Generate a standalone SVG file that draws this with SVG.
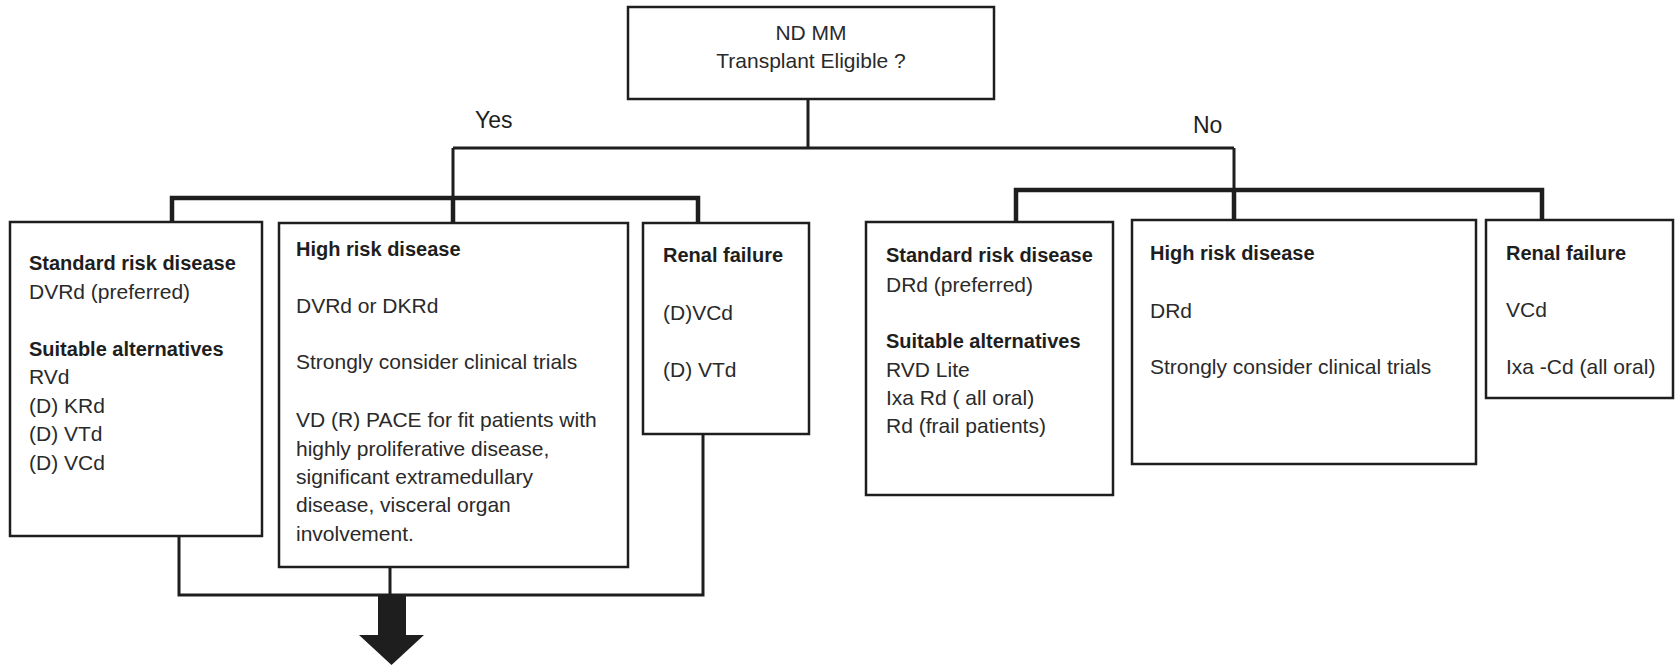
<svg xmlns="http://www.w3.org/2000/svg" width="1676" height="667" viewBox="0 0 1676 667">
<style>
.box{fill:#fff;stroke:#1e1e1e;stroke-width:2.5}
.t{font-family:"Liberation Sans",Arial,sans-serif;font-size:21px;fill:#2a2a2a}
.b{font-family:"Liberation Sans",Arial,sans-serif;font-size:20px;font-weight:bold;fill:#1e1e1e}
.lbl{font-family:"Liberation Sans",Arial,sans-serif;font-size:23px;fill:#1e1e1e}
.thin{fill:none;stroke:#1e1e1e;stroke-width:3}
.thick{fill:none;stroke:#1e1e1e;stroke-width:4.5}
</style>
<rect width="1676" height="667" fill="#fff"/>
<g id="connectors">
<path class="thin" d="M808 99V148M453 148H1234M453 148V198M1234 148V190"/>
<path class="thick" d="M172 222V198H698V222M453 198V222"/>
<path class="thick" d="M1016 222V190H1542V220M1234 190V222"/>
<path class="thin" d="M179 536V595H703V434M390 567V595"/>
<polygon points="378,595 406,595 406,635 424,635 391.5,665 359,635 378,635" fill="#1e1e1e"/>
<text class="lbl" x="475" y="128">Yes</text>
<text class="lbl" x="1193" y="133">No</text>
</g>
<g id="root">
<rect class="box" x="628" y="7" width="366" height="92"/>
<text class="t" x="811" y="40" text-anchor="middle">ND MM</text>
<text class="t" x="811" y="68" text-anchor="middle">Transplant Eligible ?</text>
</g>
<g id="te-standard">
<rect class="box" x="10" y="222" width="252" height="314"/>
<text class="b" x="29" y="270">Standard risk disease</text>
<text class="t" x="29" y="299">DVRd (preferred)</text>
<text class="b" x="29" y="356">Suitable alternatives</text>
<text class="t" x="29" y="384">RVd</text>
<text class="t" x="29" y="413">(D) KRd</text>
<text class="t" x="29" y="441">(D) VTd</text>
<text class="t" x="29" y="470">(D) VCd</text>
</g>
<g id="te-high">
<rect class="box" x="279" y="223" width="349" height="344"/>
<text class="b" x="296" y="256">High risk disease</text>
<text class="t" x="296" y="313">DVRd or DKRd</text>
<text class="t" x="296" y="369">Strongly consider clinical trials</text>
<text class="t" x="296" y="427">VD (R) PACE for fit patients with</text>
<text class="t" x="296" y="456">highly proliferative disease,</text>
<text class="t" x="296" y="484">significant extramedullary</text>
<text class="t" x="296" y="512">disease, visceral organ</text>
<text class="t" x="296" y="541">involvement.</text>
</g>
<g id="te-renal">
<rect class="box" x="643" y="223" width="166" height="211"/>
<text class="b" x="663" y="262">Renal failure</text>
<text class="t" x="663" y="320">(D)VCd</text>
<text class="t" x="663" y="377">(D) VTd</text>
</g>
<g id="nte-standard">
<rect class="box" x="866" y="222" width="247" height="273"/>
<text class="b" x="886" y="262">Standard risk disease</text>
<text class="t" x="886" y="292">DRd (preferred)</text>
<text class="b" x="886" y="348">Suitable alternatives</text>
<text class="t" x="886" y="377">RVD Lite</text>
<text class="t" x="886" y="405">Ixa Rd ( all oral)</text>
<text class="t" x="886" y="433">Rd (frail patients)</text>
</g>
<g id="nte-high">
<rect class="box" x="1132" y="220" width="344" height="244"/>
<text class="b" x="1150" y="260">High risk disease</text>
<text class="t" x="1150" y="318">DRd</text>
<text class="t" x="1150" y="374">Strongly consider clinical trials</text>
</g>
<g id="nte-renal">
<rect class="box" x="1486" y="220" width="187" height="178"/>
<text class="b" x="1506" y="260">Renal failure</text>
<text class="t" x="1506" y="317">VCd</text>
<text class="t" x="1506" y="374">Ixa -Cd (all oral)</text>
</g>
</svg>
